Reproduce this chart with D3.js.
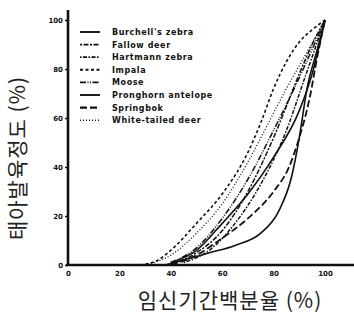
<!DOCTYPE html>
<html><head><meta charset="utf-8">
<script src="https://cdn.jsdelivr.net/npm/d3@7"></script>
<style>body{margin:0;background:#fff}svg{display:block}</style>
</head><body>
<svg id="c" width="354" height="320"></svg>
<script>
const xTicks = [0,20,40,60,80,100];
const yTicks = [0,20,40,60,80,100];
const species = ["Burchell's zebra","Fallow deer","Hartmann zebra","Impala","Moose","Pronghorn antelope","Springbok","White-tailed deer"];
const burchell = [[40,1],[50,6],[60,17],[70,29],[80,44],[90,63],[95,78],[100,100]];
const fallow = [[42,1],[50,5],[60,14],[70,30],[80,52],[90,78],[95,90],[100,100]];
const hartmann = [[45,1],[55,6],[65,17],[75,33],[85,55],[92,76],[100,100]];
const impala = [[28,0],[35,2],[40,6],[50,17],[60,29],[70,46],[75,58],[80,72],[85,83],[90,91],[95,96],[100,100]];
const moose = [[40,1],[50,7],[60,19],[70,35],[80,55],[88,72],[95,88],[100,100]];
const pronghorn = [[38,0],[45,2],[55,5],[65,8],[75,13],[82,22],[87,36],[90,52],[93,72],[97,88],[100,100]];
const springbok = [[40,0],[50,4],[60,11],[70,19],[80,30],[86,40],[90,52],[94,68],[97,85],[100,100]];
const whitetail = [[30,0],[40,4],[50,13],[60,25],[70,42],[78,58],[85,72],[92,85],[100,100]];
const seriesData = [burchell,fallow,hartmann,impala,moose,pronghorn,springbok,whitetail];
const dashes = ["none","2,1.5,5,1.5","1.5,1.5,4,1.5","3,2.5","6,1.5,1,1.5,1,1.5","none","7,3","1,2"];
const widths = [1.6,1.5,1.5,1.6,1.5,1.6,1.8,1.3];

const svg = d3.select("#c");
const x = d3.scaleLinear().domain([0,100]).range([68,325]);
const y = d3.scaleLinear().domain([0,100]).range([265,20]);

// curves
const line = d3.line().x(d=>x(d[0])).y(d=>y(d[1])).curve(d3.curveMonotoneX);
seriesData.forEach((s,i)=>{
  svg.append("path").attr("d",line(s)).attr("fill","none").attr("stroke","#111")
    .attr("stroke-width",widths[i]).attr("stroke-dasharray",dashes[i]);
});

// axes
const yAxis = d3.axisLeft(y).tickValues(yTicks).tickSize(3).tickPadding(2);
const gy = svg.append("g").attr("transform","translate(68,0)").call(yAxis);
gy.select(".domain").remove();
const xAxis = d3.axisBottom(x).tickValues(xTicks).tickSize(0).tickPadding(6);
const gx = svg.append("g").attr("transform","translate(0,265)").call(xAxis);
gx.select(".domain").remove();
[gx,gy].forEach(g=>{
  g.selectAll("text").attr("font-family","DejaVu Sans").attr("font-weight","bold")
   .attr("font-size",7).attr("fill","#111");
  g.selectAll("line").attr("stroke","#111").attr("stroke-width",1.5);
});
gy.selectAll("text").attr("dy","0.35em");
svg.append("line").attr("x1",68).attr("x2",68).attr("y1",10).attr("y2",266)
  .attr("stroke","#111").attr("stroke-width",2.6);
svg.append("line").attr("x1",66).attr("x2",354).attr("y1",265).attr("y2",265)
  .attr("stroke","#111").attr("stroke-width",2.6);

// legend
const lg = svg.append("g");
species.forEach((name,i)=>{
  const yy = 32 + i*12.6;
  lg.append("line").attr("x1",80).attr("x2",100).attr("y1",yy).attr("y2",yy)
    .attr("stroke","#111").attr("stroke-width",widths[i]+0.3).attr("stroke-dasharray",dashes[i]);
  lg.append("text").attr("x",112).attr("y",yy+3).text(name)
    .attr("font-family","DejaVu Sans").attr("font-weight","bold").attr("font-size",8)
    .attr("letter-spacing",0.6).attr("fill","#111");
});

// titles
svg.append("text").attr("x",230).attr("y",308).attr("text-anchor","middle")
  .attr("font-family","Noto Sans CJK KR").attr("font-size",21).attr("fill","#222")
  .attr("letter-spacing",1).text("임신기간백분율 (%)");
svg.append("text").attr("transform","translate(25,158) rotate(-90)").attr("text-anchor","middle")
  .attr("font-family","Noto Sans CJK KR").attr("font-size",21).attr("fill","#222")
  .attr("letter-spacing",1).text("태아발육정도 (%)");
</script>
</body></html>
